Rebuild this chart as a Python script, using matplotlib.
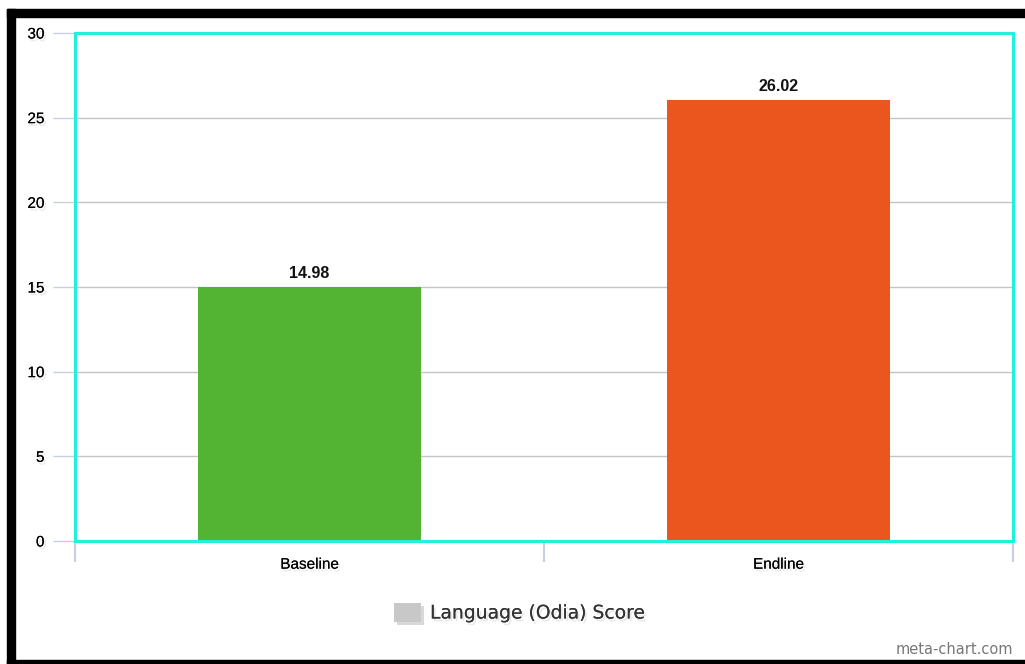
import matplotlib.pyplot as plt
import matplotlib.patheffects as pe
from matplotlib.patches import Rectangle

categories = ['Baseline', 'Endline']
scores = [14.98, 26.02]
bar_colors = ['#52b432', '#eb561e']
series_name = 'Language (Odia) Score'
y_ticks = [0, 5, 10, 15, 20, 25, 30]

fig = plt.figure(figsize=(10.25, 6.64), dpi=100)
fig.patch.set_facecolor('white')

# thick black frame on the left, top and bottom edges
for x, y, w, h in [(7, 9, 8, 655), (7, 9, 1018, 8), (7, 660, 1018, 4)]:
    fig.patches.append(Rectangle((x / 1025, 1 - (y + h) / 664), w / 1025, h / 664,
                                 transform=fig.transFigure, color='black', zorder=5))

ax = fig.add_axes([75 / 1025, 1 - 541 / 664, 938 / 1025, 508 / 664])
x = range(len(categories))
bars = ax.bar(x, scores, width=0.475, color=bar_colors, zorder=2)

ax.set_xlim(-0.5, 1.5)
ax.set_ylim(0, 30)
ax.set_yticks(y_ticks)
ax.set_yticklabels([str(t) for t in y_ticks], fontsize=11, family='Liberation Sans')
ax.yaxis.grid(True, color='#c4c4c4', linewidth=1, zorder=0)
ax.set_axisbelow(True)

# category labels sit between the tick marks at the category edges
ax.set_xticks([-0.5, 0.5, 1.5])
ax.set_xticklabels([])
ax.set_xticks(list(x), minor=True)
ax.set_xticklabels(categories, minor=True, fontsize=11, family='Liberation Sans')
ax.tick_params(axis='x', which='major', length=15, width=1.5, color='#c5d0e0', direction='out')
ax.tick_params(axis='x', which='minor', length=0, pad=12)
ax.tick_params(axis='y', length=16, width=1, color='#c5d0e0', pad=6)

shadow = [pe.withSimplePatchShadow(offset=(2, -3), shadow_rgbFace='#888888', alpha=0.35)]
for s in ax.spines.values():
    s.set_color('#1ff2d8')
    s.set_linewidth(2.2)
    s.set_path_effects(shadow)
    s.set_zorder(3)

text_shadow = [pe.withSimplePatchShadow(offset=(1.5, -2), shadow_rgbFace='#aaaaaa', alpha=0.25),
               pe.Normal()]
for t in ax.get_yticklabels() + ax.get_xticklabels(minor=True):
    t.set_path_effects(text_shadow)

for b, v in zip(bars, scores):
    ax.text(b.get_x() + b.get_width() / 2, v + 0.4, f'{v:.2f}', ha='center', va='bottom',
            fontsize=11.5, fontweight='bold', family='Liberation Sans', color='#111111')

# legend entry centred under the chart
fig.patches.append(Rectangle((394 / 1025, 1 - 622 / 664), 27 / 1025, 19 / 664,
                             transform=fig.transFigure, facecolor='#c8c8c8', edgecolor='none',
                             path_effects=[pe.withSimplePatchShadow(offset=(2, -2), alpha=0.2),
                                           pe.Normal()]))
fig.text(430 / 1025, 1 - 613 / 664, series_name, fontsize=13.5, color='#333333',
         va='center', ha='left', family='DejaVu Sans', path_effects=text_shadow)

fig.text(1013 / 1025, 1 - 649 / 664, 'meta-chart.com', fontsize=10.5, color='#777777',
         va='center', ha='right', family='DejaVu Sans')

fig.savefig('out.png', dpi=100)
